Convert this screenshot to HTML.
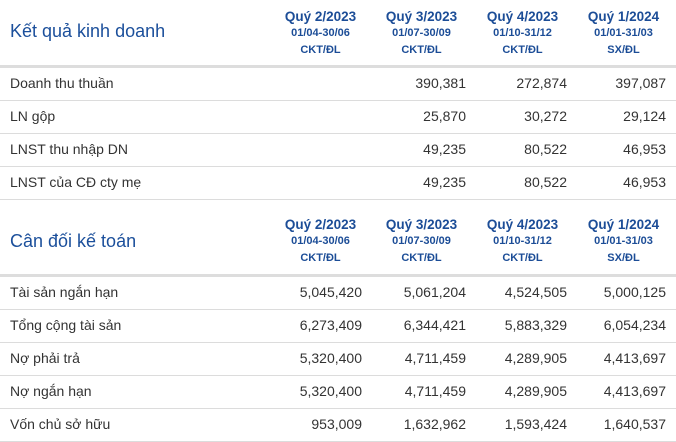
<!DOCTYPE html>
<html><head><meta charset="utf-8"><style>
body{margin:0;width:676px;height:442px;background:#fff;font-family:"Liberation Sans",Arial,sans-serif;position:relative;overflow:hidden}
.t{position:absolute;left:10px;font-size:18px;color:#1b4f9b}
.h{position:absolute;width:101px;text-align:center;color:#1c4d97;font-weight:bold}
.h .q{font-size:13.5px;line-height:16px}
.h .s{font-size:11px;line-height:17px}
.r{position:absolute;left:0;width:676px;height:33px;border-bottom:1px solid #dcdcdc;font-size:14px;color:#333}
.r span{position:absolute;top:8px}
.l{left:10px}
.v{text-align:right;width:95px}
.sep{position:absolute;left:0;width:676px;height:3px;background:#ddd}
</style></head><body>
<div class="t" style="top:21px">Kết quả kinh doanh</div>
<div class="t" style="top:231px">Cân đối kế toán</div>
<div id="c"></div>
<script>
const periods=["Quý 2/2023","Quý 3/2023","Quý 4/2023","Quý 1/2024"];
const ranges=["01/04-30/06","01/07-30/09","01/10-31/12","01/01-31/03"];
const audits=["CKT/ĐL","CKT/ĐL","CKT/ĐL","SX/ĐL"];
const incomeLabels=["Doanh thu thuần","LN gộp","LNST thu nhập DN","LNST của CĐ cty mẹ"];
const incomeValues=[["","390,381","272,874","397,087"],["","25,870","30,272","29,124"],["","49,235","80,522","46,953"],["","49,235","80,522","46,953"]];
const balanceLabels=["Tài sản ngắn hạn","Tổng cộng tài sản","Nợ phải trả","Nợ ngắn hạn","Vốn chủ sở hữu"];
const balanceValues=[["5,045,420","5,061,204","4,524,505","5,000,125"],["6,273,409","6,344,421","5,883,329","6,054,234"],["5,320,400","4,711,459","4,289,905","4,413,697"],["5,320,400","4,711,459","4,289,905","4,413,697"],["953,009","1,632,962","1,593,424","1,640,537"]];
const colL=[270,371,472,573];
const valR=[362,466,567,666];
const c=document.getElementById('c');
function header(top,tag){
  periods.forEach((p,i)=>{
    const d=document.createElement('div');d.className='h';
    
    
    d.style.left=colL[i]+'px';d.style.top=top+'px';
    d.innerHTML='<div class="q">'+p+'</div><div class="s">'+ranges[i]+'</div><div class="s">'+audits[i]+'</div>';
    c.appendChild(d);
  });
}
function rows(top,labels,vals,tag){
  labels.forEach((lb,j)=>{
    const r=document.createElement('div');r.className='r';
    
    
    r.style.top=(top+j*33)+'px';
    let h='<span class="l">'+lb+'</span>';
    vals[j].forEach((v,i)=>{h+='<span class="v" style="left:'+(valR[i]-95)+'px">'+v+'</span>';});
    r.innerHTML=h;c.appendChild(r);
  });
}
header(9,'income');header(217,'balance');
const s1=document.createElement('div');s1.className='sep';s1.style.top='65px';

c.appendChild(s1);
const s2=document.createElement('div');s2.className='sep';s2.style.top='274px';

c.appendChild(s2);
rows(67,incomeLabels,incomeValues,'income');
rows(276,balanceLabels,balanceValues,'balance');
</script>
</body></html>
